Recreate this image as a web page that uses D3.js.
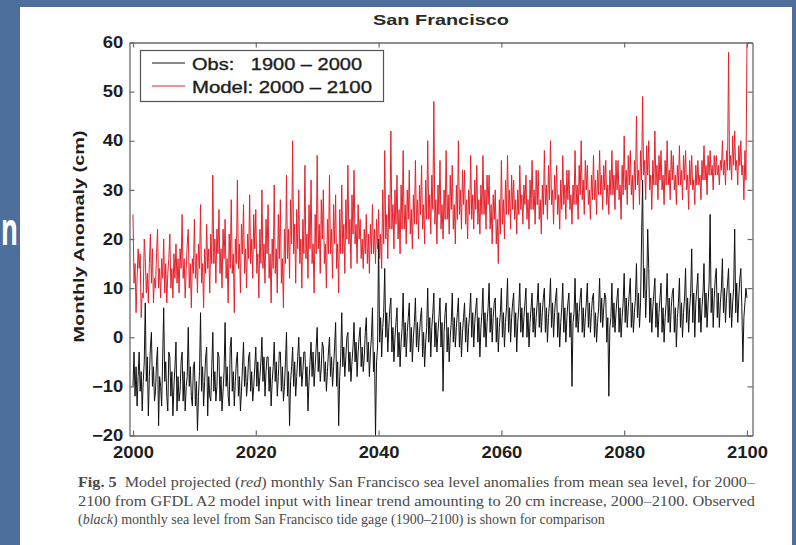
<!DOCTYPE html>
<html>
<head>
<meta charset="utf-8">
<script src="https://cdn.jsdelivr.net/npm/d3@7"></script>
<style>
  html, body { margin: 0; padding: 0; background: #4e6e9b; }
  svg { display: block; }
</style>
</head>
<body>
<svg id="chart" width="796" height="545"></svg>
<script>
// ---------------- DATA ----------------
const chartTitle = "San Francisco";
const yAxisLabel = "Monthly Anomaly  (cm)";
const xTickValues = [2000, 2020, 2040, 2060, 2080, 2100];
const yTickValues = [-20, -10, 0, 10, 20, 30, 40, 50, 60];
const seriesNames = ["Obs:   1900 \u2013 2000", "Model: 2000 \u2013 2100"];
const startYear = 2000;
const samplesPerYear = 6;

// Model (red), bimonthly samples 2000–2100 (one row per year)
const modelValues = [
  25,11,15,5,12,18, 14,17,4,9,8,20, 16,9,13,7,15,21, 11,18,7,12,10,17, 22,10,14,8,16,12,
  20,9,15,7,13,16, 21,10,14,8,17,12, 19,11,16,9,18,14, 25,12,16,8,14,19, 22,10,15,6,16,13,
  24,12,17,9,19,14, 27,11,15,6,18,13, 23,14,18,9,21,15, 33,15,20,11,22,17, 26,13,18,10,22,16,
  24,12,16,7,21,14, 28,13,17,5,20,15, 32,14,19,9,23,17, 27,13,18,10,21,16, 29,15,20,12,25,18,
  26,13,17,8,22,15, 30,14,19,11,24,17, 27,12,17,7,20,14, 31,13,18,9,25,16, 28,11,16,6,22,15,
  33,16,22,12,28,19, 40,17,23,11,26,18, 30,15,20,10,24,17, 35,16,21,12,27,18, 32,15,19,9,25,17,
  37,18,23,13,28,20, 30,15,19,10,24,17, 33,17,22,12,27,19, 29,14,19,9,26,17, 31,17,23,13,28,20,
  35,19,24,14,29,21, 34,19,23,15,27,20, 24,16,20,14,22,17, 25,15,21,13,23,17, 27,17,22,15,24,18,
  26,16,21,14,30,19, 38,20,25,16,29,22, 42,22,27,18,30,23, 33,20,26,17,31,22, 38,22,27,19,30,24,
  34,21,26,18,29,23, 36,23,28,20,31,25, 35,22,27,19,32,24, 40,24,29,21,33,26, 48,23,28,19,31,25,
  36,22,27,20,30,24, 38,24,29,21,33,26, 35,22,27,19,31,24, 40,25,30,22,34,27, 34,23,28,20,30,25,
  37,24,29,22,32,26, 35,23,28,21,31,25, 37,25,30,22,33,27, 33,22,27,19,29,24, 30,19,24,15,28,21,
  36,23,28,20,32,25, 37,25,30,22,33,26, 32,24,28,21,30,25, 35,26,29,23,31,27, 33,24,28,22,32,26,
  36,26,30,23,34,27, 34,24,28,21,31,25, 38,27,31,24,35,28, 40,27,30,23,33,28, 35,25,29,22,32,26,
  37,27,31,24,34,28, 34,26,29,23,31,27, 38,27,31,24,35,29, 40,28,32,25,36,30, 35,27,30,24,33,28,
  37,28,32,25,34,29, 38,29,33,26,35,30, 36,27,31,25,34,29, 38,29,33,26,36,30, 36,28,31,24,35,29,
  41,30,34,27,37,31, 38,29,33,26,36,30, 45,31,34,27,38,32, 49,33,36,28,39,33, 40,30,33,26,36,31,
  42,31,35,28,37,32, 38,30,33,27,36,31, 40,31,34,28,38,32, 37,30,33,27,35,31, 39,31,34,28,37,32,
  38,30,33,26,36,31, 37,30,32,27,35,31, 36,31,33,28,36,32, 39,32,35,29,37,33, 38,33,35,30,37,33,
  37,33,35,31,36,34, 40,33,36,31,38,34, 58,34,37,32,41,35, 42,34,36,31,39,35, 40,33,35,28,38,32,
  60
];

// Observed (black), 1900–2000 shown on the 2000–2100 axis, bimonthly samples
const obsValues = [
  -10,-3,-12,-6,-14,-8, -3,-11,-7,-15,-9,-5, 7,-9,-4,-16,-8,-2, 1,-10,-6,-13,-11,-5, -2,-18,-8,-10,-14,-4,
  6,-9,-5,-12,-15,-3, -4,-12,-7,-16,-10,-6, -1,-15,-8,-13,-11,-5, -3,-13,-7,-15,-10,-8, 2,-10,-6,-12,-14,-6,
  -5,-14,-9,-19,-12,-7, 5,-11,-6,-14,-9,-4, -2,-16,-8,-12,-13,-6, 1,-11,-7,-13,-10,-3, -4,-13,-8,-15,-11,-7,
  3,-10,-6,-12,-14,-2, 0,-11,-7,-14,-9,-5, -3,-12,-8,-15,-11,-6, -1,-10,-6,-12,-9,-4, -3,-11,-7,-13,-10,-6,
  -2,-10,-5,-11,-8,-5, 0,-9,-4,-12,-7,-4, -4,-11,-6,-14,-9,-6, -1,-9,-5,-12,-8,-3, -3,-11,-6,-13,-10,-5,
  1,-12,-7,-18,-9,-6, -2,-10,-5,-12,-8,-4, 0,-8,-4,-10,-7,-3, -3,-10,-6,-15,-9,-5, -1,-8,-3,-10,-6,-2,
  2,-7,-3,-9,-6,-1, -2,-9,-5,-11,-7,-3, 0,-8,-4,-10,-6,-2, 3,-10,-5,-18,-8,-4, 5,-6,-2,-8,-4,0,
  1,-7,-3,-9,-5,-2, 3,-5,-1,-8,-3,0, 2,-6,-2,-7,-4,1, 4,-5,-1,-8,-3,0, 6,-7,-3,-20,-5,-2,
  20,-1,4,-4,2,5, 14,0,5,-3,2,6, 8,-3,2,-5,0,3, 6,-4,1,-6,-1,2, 9,-2,3,-4,1,4,
  7,-3,2,-5,0,3, 8,-2,3,-3,1,4, 6,-4,1,-6,-1,2, 10,-1,4,-4,2,5, 9,-2,3,-3,1,4,
  8,-2,3,-11,1,5, 7,-3,2,-5,0,3, 9,-1,4,-2,2,5, 8,-2,3,-4,1,4, 7,-1,4,-3,2,5,
  9,0,5,-2,3,6, 8,-1,4,-4,2,5, 10,0,5,-2,3,6, 11,1,6,-1,4,7, 8,-1,4,-3,2,5,
  10,0,5,-2,3,6, 12,1,6,-1,4,7, 9,0,5,-3,3,6, 11,1,6,0,4,7, 10,0,5,-2,3,6,
  9,1,6,0,4,7, 11,2,7,1,5,8, 10,1,6,-1,4,7, 12,2,7,0,5,8, 10,0,5,-2,3,6,
  11,1,6,-1,4,7, 9,0,5,-10,3,5, 12,2,7,1,5,8, 10,1,6,0,4,7, 11,2,7,1,5,8,
  9,0,5,-1,3,6, 12,3,8,2,6,9, 8,-1,4,-12,2,4, 11,2,7,1,5,8, 10,1,6,0,4,7,
  13,3,8,2,6,9, 12,2,7,1,5,8, 15,4,9,2,7,20, 32,8,14,4,10,22, 14,3,8,1,6,9,
  12,2,7,0,5,8, 11,1,6,-1,4,7, 13,3,8,1,6,9, 10,1,6,-2,4,7, 12,2,7,0,5,8,
  14,3,8,1,6,9, 18,3,9,0,7,10, 13,3,8,1,6,9, 15,4,9,2,7,11, 25,5,10,2,8,12,
  14,4,9,2,7,10, 16,5,10,3,8,11, 14,4,9,2,7,10, 22,5,11,3,8,12, 14,6,-5,4,7,10,
  8
];

const captionLines = [
  [{t:"Fig. 5", w:"bold", s:"normal"}, {t:"  Model projected (", w:"normal", s:"normal"}, {t:"red", w:"normal", s:"italic"}, {t:") monthly San Francisco sea level anomalies from mean sea level, for 2000\u2013", w:"normal", s:"normal"}],
  [{t:"2100 from GFDL A2 model input with linear trend amounting to 20 cm increase, 2000\u20132100. Observed", w:"normal", s:"normal"}],
  [{t:"(", w:"normal", s:"normal"}, {t:"black", w:"normal", s:"italic"}, {t:") monthly sea level from San Francisco tide gage (1900\u20132100) is shown for comparison", w:"normal", s:"normal"}]
];

// ---------------- DRAWING ----------------
const svg = d3.select("#chart");
const W = 796, H = 545;

svg.append("rect").attr("x", 0).attr("y", 0).attr("width", W).attr("height", H).attr("fill", "#4e6e9b");
svg.append("rect").attr("x", 20).attr("y", 7).attr("width", 772).attr("height", H - 7).attr("fill", "#ffffff");

// partial slide title letter on the left
svg.append("text").attr("x", 1).attr("y", 245)
  .attr("font-family", "'Open Sans', 'DejaVu Sans', sans-serif").attr("font-weight", "bold")
  .attr("font-size", 44).attr("fill", "#ffffff")
  .attr("textLength", 17).attr("lengthAdjust", "spacingAndGlyphs")
  .text("n");

const x = d3.scaleLinear().domain([1999.43, 2100.9]).range([129.5, 752.5]);
const y = d3.scaleLinear().domain([-20, 60]).range([435.5, 42.5]);

const labelFont = "'Liberation Sans', Arial, Helvetica, sans-serif";
const axisColor = "#6a6a6a";

function styleAxis(g, showLabels) {
  g.select(".domain").attr("stroke", axisColor).attr("stroke-width", 1.3);
  g.selectAll(".tick line").attr("stroke", axisColor).attr("stroke-width", 1.2);
  if (!showLabels) g.selectAll(".tick text").remove();
  else g.selectAll(".tick text")
      .attr("font-family", labelFont).attr("font-weight", "bold")
      .attr("font-size", 16).attr("fill", "#1e1e1e")
      .attr("transform", "scale(1.15,1)");
}

// series
const line = d3.line()
  .x((d, i) => x(startYear + i / samplesPerYear))
  .y(d => y(d));

svg.append("path").datum(obsValues).attr("d", line)
  .attr("fill", "none").attr("stroke", "#111111").attr("stroke-width", 1).attr("stroke-linejoin", "round");
svg.append("path").datum(modelValues).attr("d", line)
  .attr("fill", "none").attr("stroke", "#e5222c").attr("stroke-width", 1).attr("stroke-linejoin", "round");

// axes (box with inward ticks)
const gB = svg.append("g").attr("transform", `translate(0,${y(-20)})`)
  .call(d3.axisBottom(x).tickValues(xTickValues).tickFormat(d3.format("d")).tickSizeInner(-5).tickSizeOuter(0).tickPadding(11.5));
styleAxis(gB, true);
const gT = svg.append("g").attr("transform", `translate(0,${y(60)})`)
  .call(d3.axisTop(x).tickValues(xTickValues).tickSizeInner(-5).tickSizeOuter(0));
styleAxis(gT, false);
const gL = svg.append("g").attr("transform", `translate(${x.range()[0]},0)`)
  .call(d3.axisLeft(y).tickValues(yTickValues).tickSizeInner(-5).tickSizeOuter(0).tickPadding(5.4));
styleAxis(gL, true);
const gR = svg.append("g").attr("transform", `translate(${x.range()[1]},0)`)
  .call(d3.axisRight(y).tickValues(yTickValues).tickSizeInner(-5).tickSizeOuter(0));
styleAxis(gR, false);

// title
svg.append("text").attr("x", 441).attr("y", 25).attr("text-anchor", "middle")
  .attr("font-family", labelFont).attr("font-weight", "bold").attr("font-size", 15)
  .attr("fill", "#2a2a2a").attr("textLength", 136).attr("lengthAdjust", "spacingAndGlyphs")
  .text(chartTitle);

// y label
svg.append("text").attr("transform", "translate(84,236.5) rotate(-90)")
  .attr("text-anchor", "middle")
  .attr("font-family", labelFont).attr("font-weight", "bold").attr("font-size", 15)
  .attr("fill", "#1e1e1e").attr("textLength", 212).attr("lengthAdjust", "spacingAndGlyphs")
  .text(yAxisLabel);

// legend
const lg = svg.append("g");
lg.append("rect").attr("x", 140.5).attr("y", 50.5).attr("width", 243).attr("height", 51)
  .attr("fill", "#ffffff").attr("stroke", "#555555").attr("stroke-width", 1.2);
const legendColors = ["#111111", "#e5222c"];
const legendWidths = [170, 180];
seriesNames.forEach((name, i) => {
  const ly = 63 + i * 23;
  lg.append("line").attr("x1", 152).attr("x2", 185).attr("y1", ly).attr("y2", ly)
    .attr("stroke", legendColors[i]).attr("stroke-width", 1);
  lg.append("text").attr("x", 192).attr("y", ly + 6.5)
    .attr("font-family", labelFont).attr("font-size", 16).attr("fill", "#1e1e1e")
    .attr("stroke", "#1e1e1e").attr("stroke-width", 0.35)
    .attr("textLength", legendWidths[i]).attr("lengthAdjust", "spacingAndGlyphs")
    .style("white-space", "pre")
    .text(name);
});

// caption
const capY = [487, 506, 524];
captionLines.forEach((parts, i) => {
  const t = svg.append("text").attr("x", 78).attr("y", capY[i])
    .attr("font-family", "'Liberation Serif', 'Times New Roman', serif")
    .attr("font-size", 14).attr("fill", "#4a4a4a")
    .style("white-space", "pre");
  if (i < 2) t.attr("textLength", 677).attr("lengthAdjust", "spacingAndGlyphs");
  parts.forEach(p => t.append("tspan").attr("font-weight", p.w).attr("font-style", p.s).text(p.t));
});
</script>
</body>
</html>
